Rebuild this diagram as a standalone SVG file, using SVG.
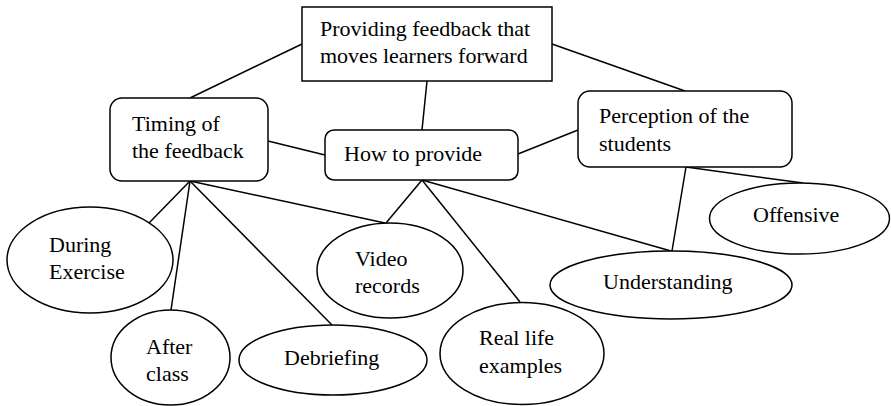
<svg xmlns="http://www.w3.org/2000/svg" width="891" height="406" viewBox="0 0 891 406">
  <style>
    .box { fill: #fff; stroke: #000; stroke-width: 1.5; }
    .conn line { stroke: #000; stroke-width: 1.5; }
    .lbl { font-family: 'Liberation Serif', 'Times New Roman', Times, 'DejaVu Serif', serif; font-size: 22px; fill: #000; }
  </style>
  <rect width="891" height="406" fill="#fff"/>

  <!-- connectors -->
  <g id="connectors" class="conn">
    <line x1="302" y1="44" x2="190" y2="98"/>
    <line x1="427" y1="81" x2="422" y2="130"/>
    <line x1="552" y1="44" x2="685" y2="91"/>
    <line x1="268" y1="141" x2="325" y2="155"/>
    <line x1="518" y1="154" x2="578" y2="130"/>
    <line x1="190" y1="181" x2="149" y2="223"/>
    <line x1="190" y1="181" x2="171" y2="310"/>
    <line x1="190" y1="181" x2="332" y2="325"/>
    <line x1="190" y1="181" x2="385" y2="223"/>
    <line x1="422" y1="180" x2="386" y2="223"/>
    <line x1="422" y1="180" x2="520" y2="302"/>
    <line x1="422" y1="180" x2="671" y2="251"/>
    <line x1="686" y1="167" x2="672" y2="251"/>
    <line x1="686" y1="167" x2="803" y2="183"/>
  </g>

  <g class="lbl" font-family="Liberation Serif, serif">
    <!-- root -->
    <g id="root">
      <rect class="box" x="302" y="7" width="250" height="74"/>
      <text x="320" y="36">Providing feedback that</text>
      <text x="320" y="63">moves learners forward</text>
    </g>

    <!-- categories -->
    <g id="timing">
      <rect class="box" x="110" y="98" width="158" height="83" rx="12"/>
      <text x="132" y="131">Timing of</text>
      <text x="132" y="158">the feedback</text>
    </g>
    <g id="how">
      <rect class="box" x="325" y="130" width="193" height="50" rx="9"/>
      <text x="344" y="161">How to provide</text>
    </g>
    <g id="perception">
      <rect class="box" x="578" y="91" width="214" height="76" rx="12"/>
      <text x="599" y="123">Perception of the</text>
      <text x="599" y="151">students</text>
    </g>

    <!-- leaves -->
    <g id="during">
      <ellipse class="box" cx="90" cy="260" rx="83" ry="53"/>
      <text x="49" y="252">During</text>
      <text x="49" y="279">Exercise</text>
    </g>
    <g id="after">
      <ellipse class="box" cx="170.5" cy="357.5" rx="59.5" ry="47.5"/>
      <text x="146" y="354">After</text>
      <text x="146" y="381">class</text>
    </g>
    <g id="debriefing">
      <ellipse class="box" cx="333" cy="360" rx="94" ry="35"/>
      <text x="284" y="365">Debriefing</text>
    </g>
    <g id="video">
      <ellipse class="box" cx="390" cy="270.5" rx="73" ry="47.5"/>
      <text x="355" y="266">Video</text>
      <text x="355" y="293">records</text>
    </g>
    <g id="reallife">
      <ellipse class="box" cx="522" cy="353.5" rx="82" ry="51"/>
      <text x="479" y="345">Real life</text>
      <text x="479" y="373">examples</text>
    </g>
    <g id="understanding">
      <ellipse class="box" cx="671" cy="285" rx="121" ry="34"/>
      <text x="603" y="289">Understanding</text>
    </g>
    <g id="offensive">
      <ellipse class="box" cx="799.5" cy="218.5" rx="90" ry="35.5"/>
      <text x="753" y="222">Offensive</text>
    </g>
  </g>
</svg>
